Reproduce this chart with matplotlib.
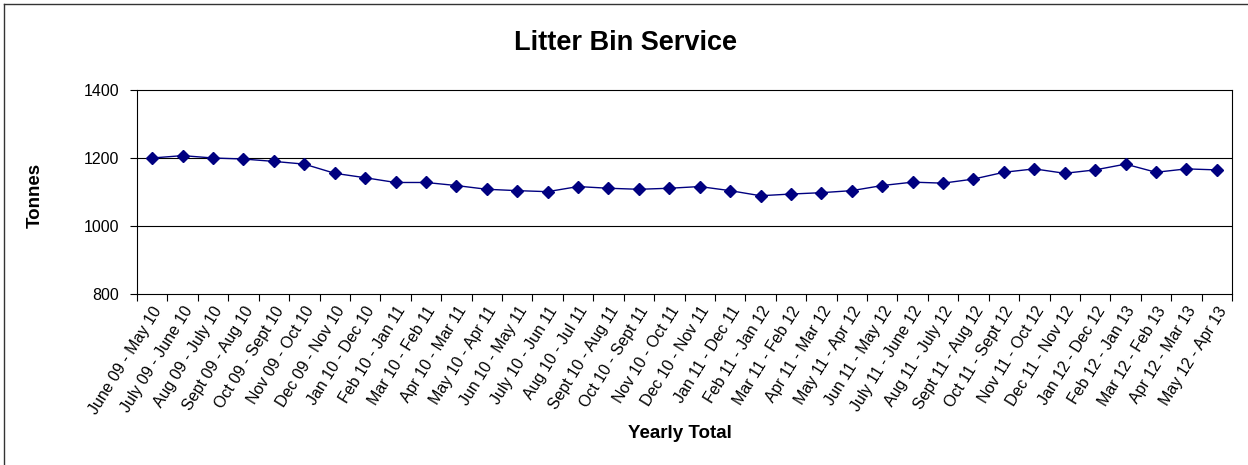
import numpy as np
import matplotlib.pyplot as plt
from matplotlib.lines import Line2D

plt.rcParams['font.family'] = ['Liberation Sans', 'DejaVu Sans']

# --- Data ---
periods = [
    "June 09 - May 10", "July 09 - June 10", "Aug 09 - July 10", "Sept 09 - Aug 10",
    "Oct 09 - Sept 10", "Nov 09 - Oct 10", "Dec 09 - Nov 10", "Jan 10 - Dec 10",
    "Feb 10 - Jan 11", "Mar 10 - Feb 11", "Apr 10 - Mar 11", "May 10 - Apr 11",
    "Jun 10 - May 11", "July 10 - Jun 11", "Aug 10 - Jul 11", "Sept 10 - Aug 11",
    "Oct 10 - Sept 11", "Nov 10 - Oct 11", "Dec 10 - Nov 11", "Jan 11 - Dec 11",
    "Feb 11 - Jan 12", "Mar 11 - Feb 12", "Apr 11 - Mar 12", "May 11 - Apr 12",
    "Jun 11 - May 12", "July 11 - June 12", "Aug 11 - July 12", "Sept 11 - Aug 12",
    "Oct 11 - Sept 12", "Nov 11 - Oct 12", "Dec 11 - Nov 12", "Jan 12 - Dec 12",
    "Feb 12 - Jan 13", "Mar 12 - Feb 13", "Apr 12 - Mar 13", "May 12 - Apr 13",
]
tonnes = [
    1200, 1207, 1200, 1197, 1190, 1182, 1155, 1142, 1128, 1128, 1119, 1108,
    1104, 1101, 1116, 1111, 1108, 1111, 1116, 1104, 1089, 1094, 1098, 1104,
    1119, 1129, 1126, 1138, 1158, 1168, 1155, 1165, 1182, 1158, 1168, 1165,
]
y_ticks = [800, 1000, 1200, 1400]

W, H = 1248, 465

# --- Plot ---
fig = plt.figure(figsize=(W / 100, H / 100), dpi=100)
ax = fig.add_axes([137 / W, 1 - 294 / H, (1232 - 137) / W, (294 - 90) / H])

x = np.arange(len(periods))
ax.plot(x, tonnes, color='#000080', lw=1, marker='D', markersize=6,
        markeredgecolor='#000080', markerfacecolor='#000080')

ax.set_xlim(-0.5, len(periods) - 0.5)
ax.set_ylim(800, 1400)
ax.set_yticks(y_ticks)
for v in y_ticks[1:-1]:
    ax.axhline(v, color='black', lw=0.8, zorder=0)

ax.set_xticks(np.arange(len(periods) + 1) - 0.5)
ax.set_xticklabels([])
ax.set_xticks(x, minor=True)
ax.set_xticklabels(periods, minor=True, rotation=58, ha='right',
                   rotation_mode='anchor', fontsize=11.5)
ax.tick_params(axis='x', which='minor', length=0, pad=7)
ax.tick_params(axis='x', which='major', length=5, width=0.8)
ax.tick_params(axis='y', length=5, width=0.8, labelsize=11.5, pad=8)

for s in ax.spines.values():
    s.set_linewidth(0.8)

fig.text(35 / W, 1 - 195 / H, "Tonnes", fontsize=13.5, fontweight='bold',
         rotation=90, ha='center', va='center')
fig.text(680 / W, 1 - 433 / H, "Yearly Total", fontsize=13.5, fontweight='bold',
         ha='center', va='center')
fig.text(626 / W, 1 - 43 / H, "Litter Bin Service", fontsize=19.5, fontweight='bold',
         ha='center', va='center')

# outer chart frame (left and top edges visible)
fig.add_artist(Line2D([4 / W, 4 / W], [0, 1 - 4 / H], transform=fig.transFigure,
                      color='#333333', lw=1))
fig.add_artist(Line2D([4 / W, 1], [1 - 4 / H, 1 - 4 / H], transform=fig.transFigure,
                      color='#333333', lw=1))

fig.savefig("out.png", dpi=100)
